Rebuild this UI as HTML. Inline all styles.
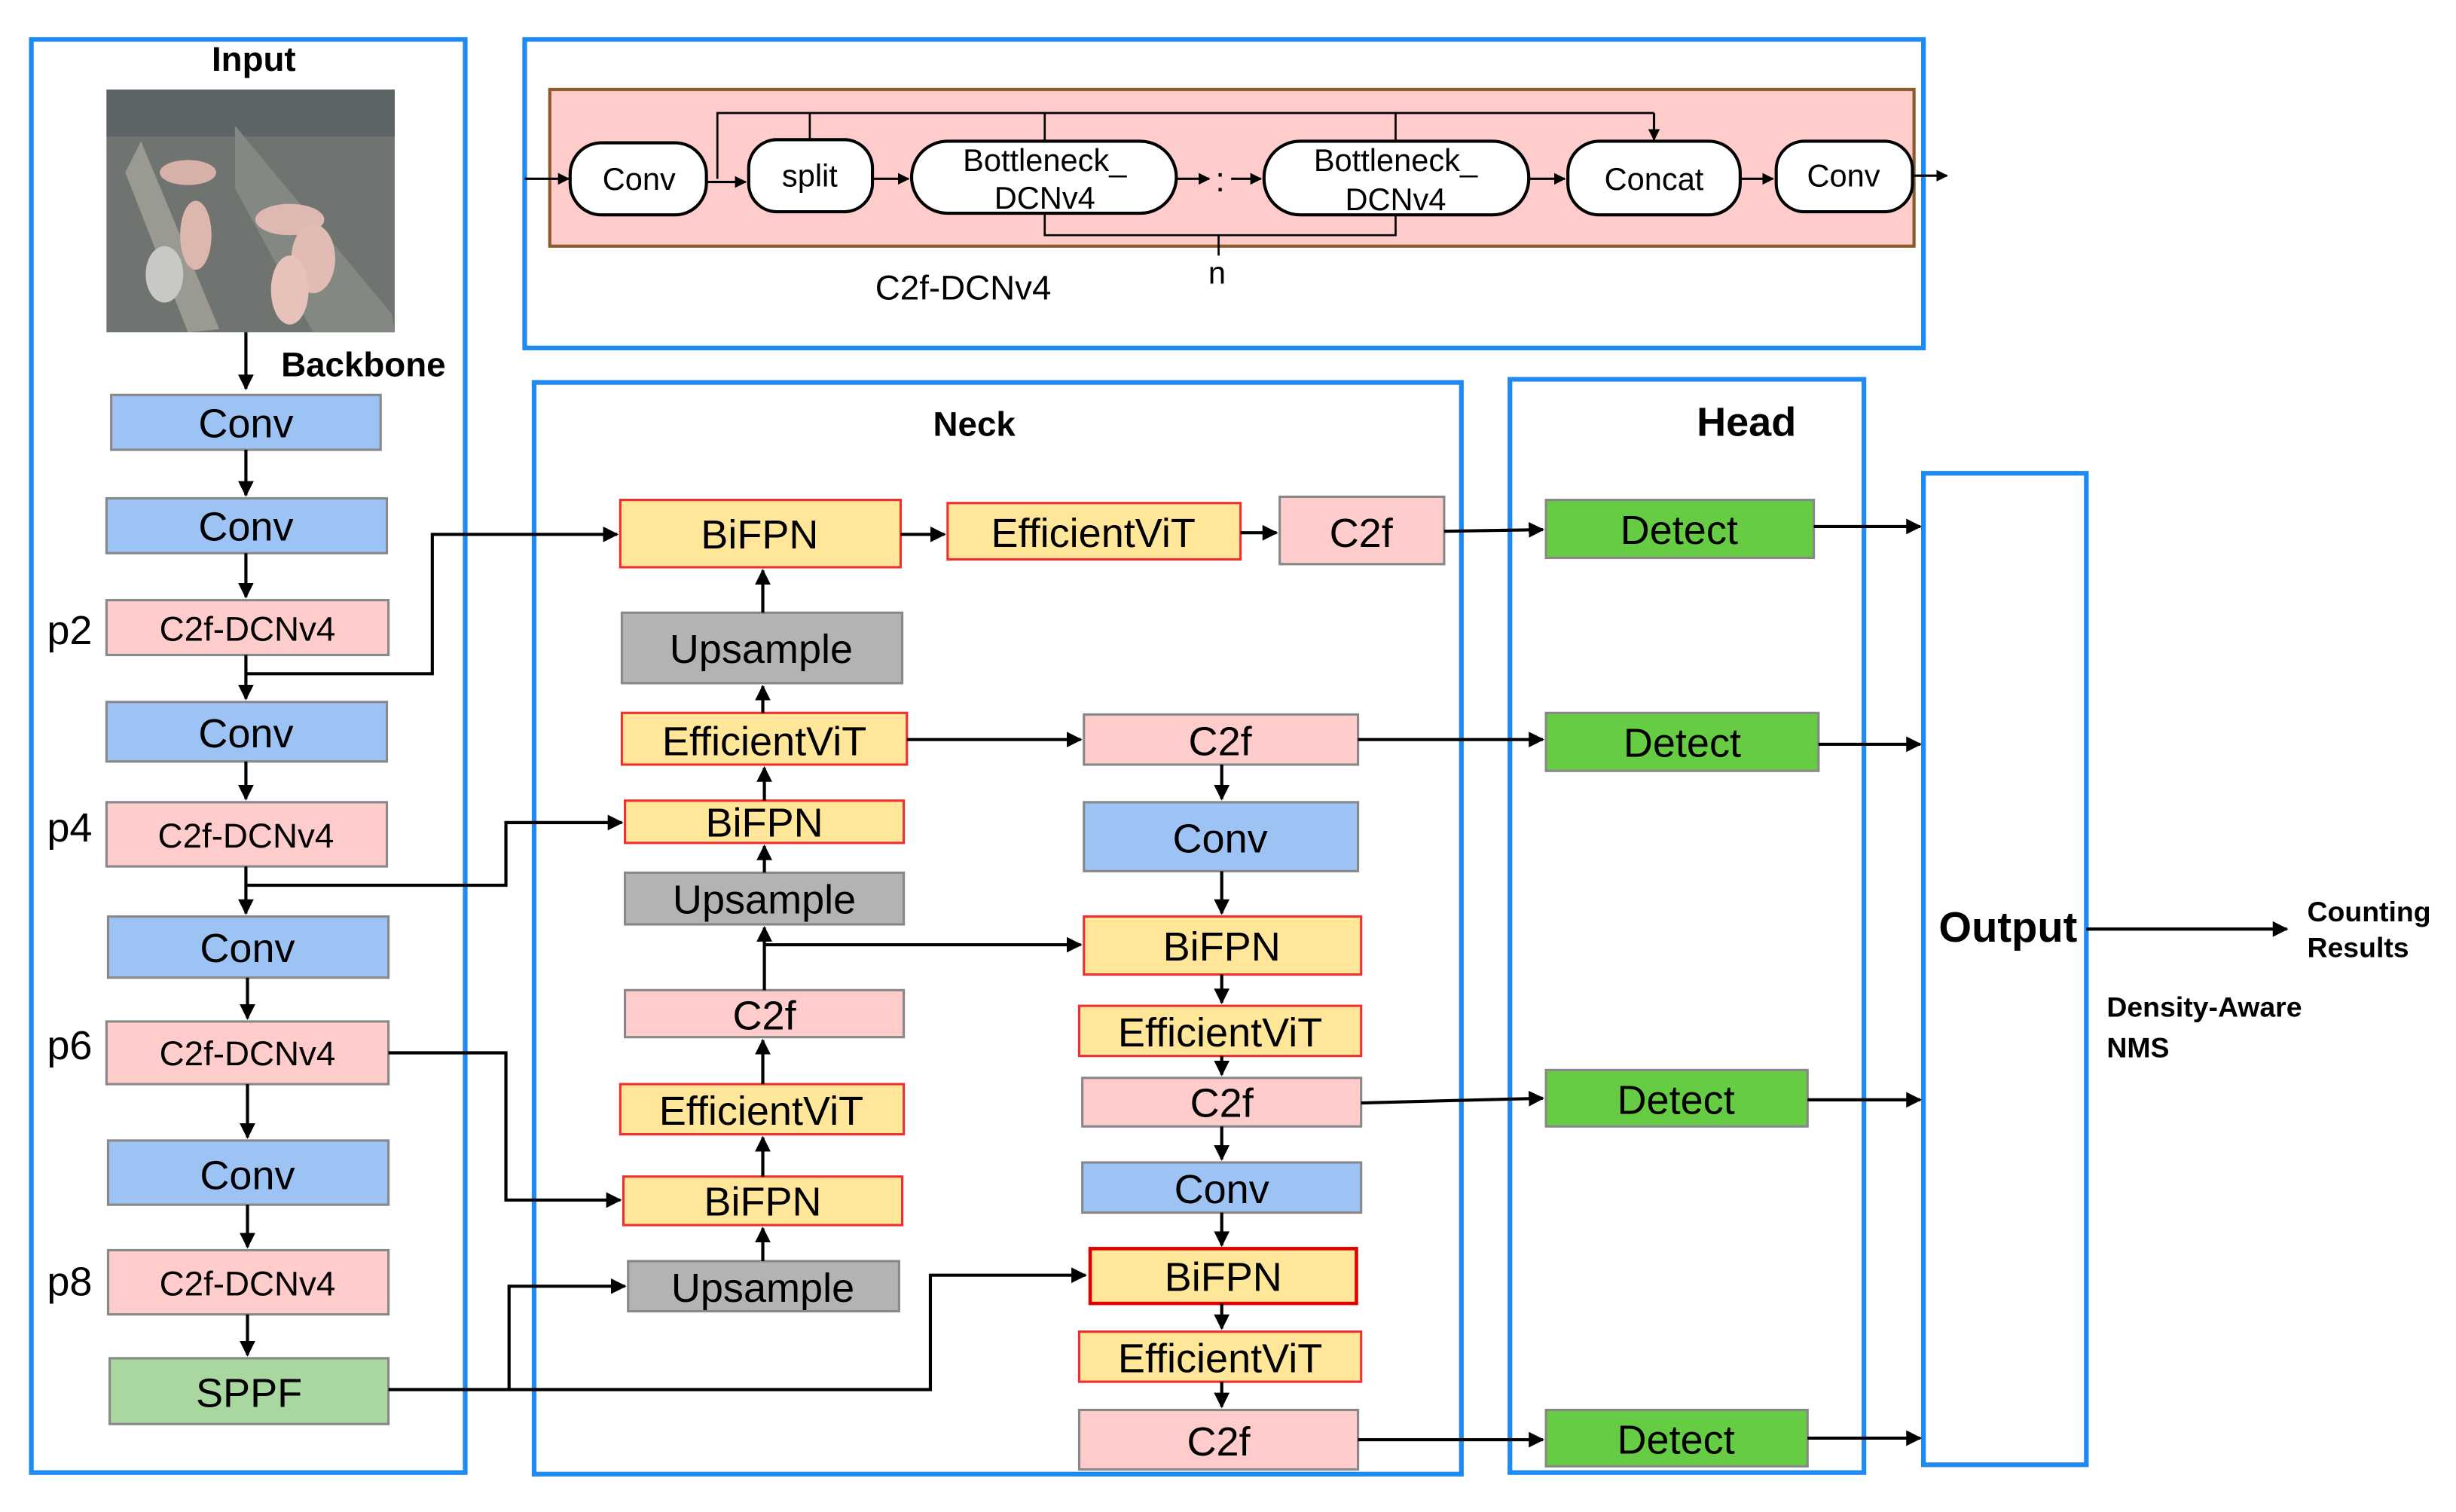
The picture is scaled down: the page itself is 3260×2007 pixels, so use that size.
<!DOCTYPE html>
<html><head><meta charset="utf-8"><style>
html,body{margin:0;padding:0;background:#fff}
svg{display:block}
text{font-family:"Liberation Sans",Arial,sans-serif}
</style></head><body>
<svg width="3260" height="2007" viewBox="0 0 1568 965" xmlns="http://www.w3.org/2000/svg">
<defs>
<marker id="a" viewBox="0 0 10 10" refX="9" refY="5" markerWidth="5" markerHeight="5" orient="auto"><path d="M0,0L10,5L0,10z" fill="#000"/></marker>
</defs>
<rect width="1568" height="965" fill="#fff"/>
<g fill="none" stroke="#1f8af0" stroke-width="3">
<rect x="20" y="25" width="277" height="915"/>
<rect x="335" y="25" width="893" height="197"/>
<rect x="341" y="244" width="592" height="697"/>
<rect x="964" y="242" width="226" height="698"/>
<rect x="1228" y="302" width="104" height="633"/>
</g>
<g font-weight="bold" text-anchor="middle" fill="#000">
<text x="162" y="45" font-size="22">Input</text>
<text x="232" y="240" font-size="22">Backbone</text>
<text x="622" y="278" font-size="22">Neck</text>
<text x="1115" y="278" font-size="26">Head</text>
<text x="1282" y="601" font-size="27">Output</text>
</g>
<g font-weight="bold" font-size="18" fill="#000">
<text x="1473" y="588">Counting</text><text x="1473" y="611">Results</text>
<text x="1345" y="649">Density-Aware</text><text x="1345" y="675">NMS</text>
</g>
<!-- photo -->
<rect x="68" y="57" width="184" height="155" fill="#6f7470"/>
<rect x="68" y="57" width="184" height="30" fill="#5c6466"/>
<path d="M90,90 L140,210 L120,212 L80,110z" fill="#9a9a92"/>
<path d="M150,80 L250,200 L252,212 L200,212 L150,120z" fill="#848882"/>
<ellipse cx="120" cy="110" rx="18" ry="8" fill="#d8b0aa"/>
<ellipse cx="185" cy="140" rx="22" ry="10" fill="#e0b8b2"/>
<ellipse cx="200" cy="165" rx="14" ry="22" fill="#e2bcb4"/>
<ellipse cx="185" cy="185" rx="12" ry="22" fill="#e6c2ba"/>
<ellipse cx="125" cy="150" rx="10" ry="22" fill="#ddb6ae"/>
<ellipse cx="105" cy="175" rx="12" ry="18" fill="#c8c8c4"/>
<!-- boxes -->
<g stroke="#888" stroke-width="1.5">
<rect x="71" y="252" width="172" height="35" fill="#9dc3f5"/>
<rect x="68" y="318" width="179" height="35" fill="#9dc3f5"/>
<rect x="68" y="383" width="180" height="35" fill="#ffcccc"/>
<rect x="68" y="448" width="179" height="38" fill="#9dc3f5"/>
<rect x="68" y="512" width="179" height="41" fill="#ffcccc"/>
<rect x="69" y="585" width="179" height="39" fill="#9dc3f5"/>
<rect x="68" y="652" width="180" height="40" fill="#ffcccc"/>
<rect x="69" y="728" width="179" height="41" fill="#9dc3f5"/>
<rect x="69" y="798" width="179" height="41" fill="#ffcccc"/>
<rect x="70" y="867" width="178" height="42" fill="#a8d8a0"/>
<rect x="817" y="317" width="105" height="43" fill="#ffcccc"/>
<rect x="397" y="391" width="179" height="45" fill="#b3b3b3"/>
<rect x="399" y="557" width="178" height="33" fill="#b3b3b3"/>
<rect x="399" y="632" width="178" height="30" fill="#ffcccc"/>
<rect x="401" y="805" width="173" height="32" fill="#b3b3b3"/>
<rect x="692" y="456" width="175" height="32" fill="#ffcccc"/>
<rect x="692" y="512" width="175" height="44" fill="#9dc3f5"/>
<rect x="691" y="688" width="178" height="31" fill="#ffcccc"/>
<rect x="691" y="742" width="178" height="32" fill="#9dc3f5"/>
<rect x="689" y="900" width="178" height="38" fill="#ffcccc"/>
<rect x="987" y="319" width="171" height="37" fill="#66cc44"/>
<rect x="987" y="455" width="174" height="37" fill="#66cc44"/>
<rect x="987" y="683" width="167" height="36" fill="#66cc44"/>
<rect x="987" y="900" width="167" height="36" fill="#66cc44"/>
</g>
<g stroke="#f03030" stroke-width="1.5" fill="#ffe699">
<rect x="396" y="319" width="179" height="43"/>
<rect x="605" y="321" width="187" height="36"/>
<rect x="397" y="455" width="182" height="33"/>
<rect x="399" y="511" width="178" height="27"/>
<rect x="396" y="692" width="181" height="32"/>
<rect x="398" y="751" width="178" height="31"/>
<rect x="692" y="585" width="177" height="37"/>
<rect x="689" y="642" width="180" height="32"/>
<rect x="696" y="797" width="170" height="35" stroke="#e00000" stroke-width="2.2"/>
<rect x="689" y="850" width="180" height="32"/>
</g>
<g font-size="26" text-anchor="middle" fill="#000">
<text x="157" y="279">Conv</text>
<text x="157" y="345">Conv</text>
<text x="157" y="477">Conv</text>
<text x="158" y="614">Conv</text>
<text x="158" y="759">Conv</text>
<text x="159" y="898">SPPF</text>
<text x="485" y="350">BiFPN</text>
<text x="698" y="349">EfficientViT</text>
<text x="869" y="349">C2f</text>
<text x="486" y="423">Upsample</text>
<text x="488" y="482">EfficientViT</text>
<text x="488" y="534">BiFPN</text>
<text x="488" y="583">Upsample</text>
<text x="488" y="657">C2f</text>
<text x="486" y="718">EfficientViT</text>
<text x="487" y="776">BiFPN</text>
<text x="487" y="831">Upsample</text>
<text x="779" y="482">C2f</text>
<text x="779" y="544">Conv</text>
<text x="780" y="613">BiFPN</text>
<text x="779" y="668">EfficientViT</text>
<text x="780" y="713">C2f</text>
<text x="780" y="768">Conv</text>
<text x="781" y="824">BiFPN</text>
<text x="779" y="876">EfficientViT</text>
<text x="778" y="929">C2f</text>
<text x="1072" y="347">Detect</text>
<text x="1074" y="483">Detect</text>
<text x="1070" y="711">Detect</text>
<text x="1070" y="928">Detect</text>
</g>
<g font-size="22" text-anchor="middle" fill="#000">
<text x="158" y="409">C2f-DCNv4</text>
<text x="157" y="541">C2f-DCNv4</text>
<text x="158" y="680">C2f-DCNv4</text>
<text x="158" y="827">C2f-DCNv4</text>
</g>
<g font-size="26" fill="#000">
<text x="30" y="411">p2</text><text x="30" y="537">p4</text><text x="30" y="676">p6</text><text x="30" y="827">p8</text>
</g>
<!-- connectors -->
<g stroke="#000" stroke-width="2" fill="none" marker-end="url(#a)">
<path d="M157,212V248"/>
<path d="M157,287V316"/><path d="M157,353V381"/><path d="M157,418V446"/><path d="M157,486V510"/>
<path d="M157,553V583"/><path d="M158,624V650"/><path d="M158,692V726"/><path d="M158,769V796"/><path d="M158,839V865"/>
<path d="M158,430H276V341H394"/>
<path d="M158,565H323V525H397"/>
<path d="M248,672H323V766H396"/>
<path d="M248,887H325V821H399"/>
<path d="M325,887H594V814H693"/>
<path d="M487,805V784"/><path d="M487,751V726"/><path d="M487,692V664"/><path d="M488,632V592"/>
<path d="M488,603H690"/>
<path d="M488,557V540"/><path d="M488,511V490"/><path d="M487,455V438"/><path d="M487,391V364"/>
<path d="M579,472H690"/><path d="M575,341H603"/><path d="M792,340H815"/>
<path d="M922,339L985,338"/>
<path d="M780,488V510"/><path d="M780,556V583"/><path d="M780,622V640"/><path d="M780,674V686"/>
<path d="M780,719V740"/><path d="M780,774V795"/><path d="M780,832V848"/><path d="M780,882V898"/>
<path d="M867,472H985"/><path d="M869,704L985,701"/><path d="M867,919H985"/>
<path d="M1158,336H1226"/><path d="M1161,475H1226"/><path d="M1154,702H1226"/><path d="M1154,918H1226"/>
<path d="M1332,593H1460"/>
</g>
<!-- top C2f-DCNv4 detail -->
<rect x="351" y="57" width="871" height="100" fill="#ffcccc" stroke="#8b5a2b" stroke-width="2"/>
<g stroke="#000" stroke-width="1.3" fill="none">
<path d="M458,114V72H1056"/><path d="M517,72V89"/><path d="M667,72V90"/><path d="M891,72V90"/>
<path d="M667,136V150H891V137"/><path d="M778,150V163"/>
</g>
<g stroke="#000" stroke-width="1.5" fill="none" marker-end="url(#a)">
<path d="M1056,72V89"/>
<path d="M335,114H363"/><path d="M451,116H476"/><path d="M557,114H580"/><path d="M751,114H772"/><path d="M786,114H805"/>
<path d="M976,114H999"/><path d="M1111,114H1132"/><path d="M1221,112H1243"/>
</g>
<g fill="#fff" stroke="#000" stroke-width="2">
<rect x="364" y="91" width="87" height="46" rx="20"/>
<rect x="478" y="89" width="79" height="46" rx="18"/>
<rect x="582" y="90" width="169" height="46" rx="23"/>
<rect x="807" y="90" width="169" height="47" rx="23"/>
<rect x="1001" y="90" width="110" height="47" rx="20"/>
<rect x="1134" y="90" width="87" height="45" rx="18"/>
</g>
<g font-size="20" text-anchor="middle" fill="#000">
<text x="408" y="121">Conv</text>
<text x="517" y="119">split</text>
<text x="667" y="109">Bottleneck_</text><text x="667" y="133">DCNv4</text>
<text x="891" y="109">Bottleneck_</text><text x="891" y="134">DCNv4</text>
<text x="1056" y="121">Concat</text>
<text x="1177" y="119">Conv</text>
<text x="779" y="122" font-size="22">:</text>
<text x="777" y="181">n</text>
<text x="615" y="191" font-size="22">C2f-DCNv4</text>
</g>
</svg>
</body></html>
